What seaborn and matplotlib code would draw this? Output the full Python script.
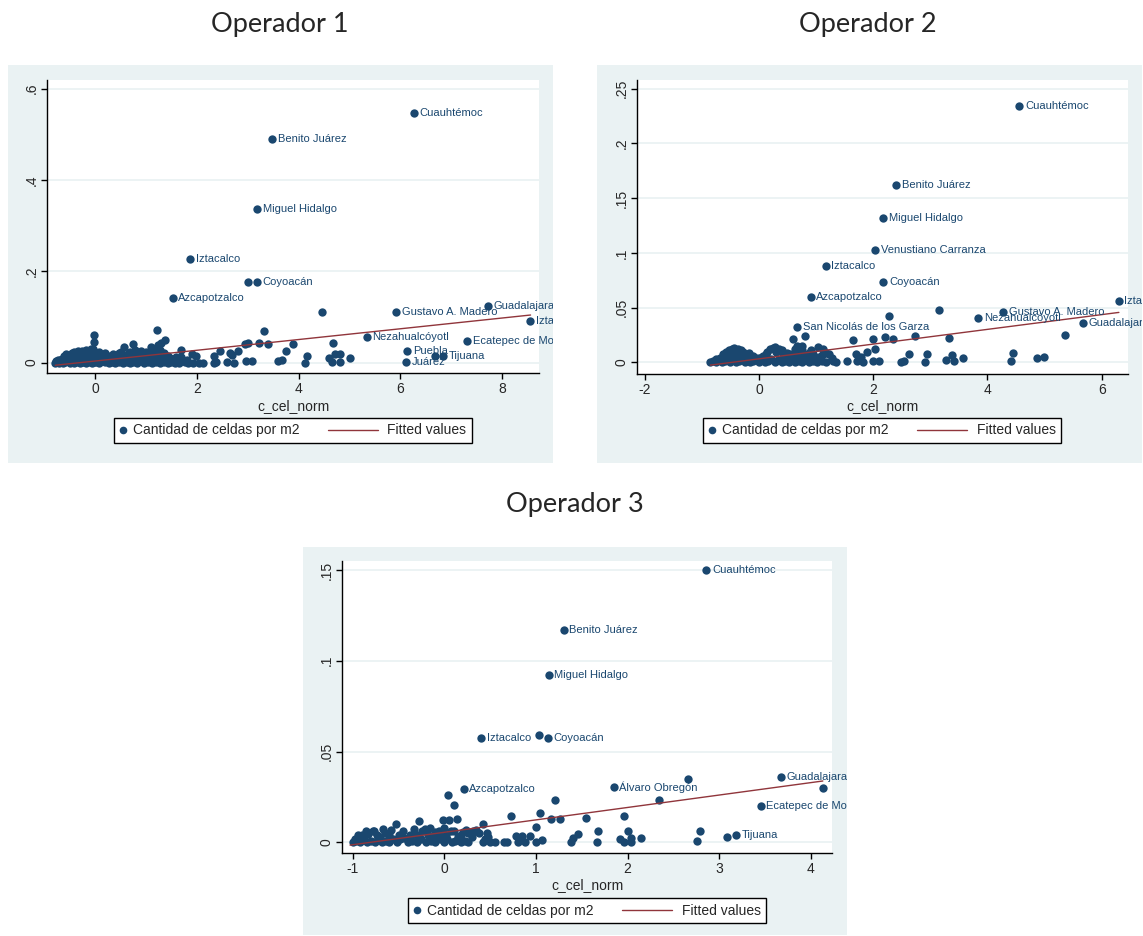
import matplotlib
matplotlib.use('Agg')
import matplotlib.pyplot as plt
import seaborn as sns
from matplotlib.lines import Line2D
from matplotlib.legend_handler import HandlerBase

sns.set_style('white')
plt.rcParams['font.family'] = ['Liberation Sans', 'DejaVu Sans']

# ---- datos Operador 1 ----
p1_points = [
    (-0.78, 0), (-0.74, 0.001), (-0.70, 0), (-0.66, 0.002), (-0.62, 0), (-0.58, 0.001), (-0.54, 0.003),
    (-0.50, 0), (-0.46, 0.002), (-0.42, 0), (-0.38, 0.001), (-0.34, 0.003), (-0.30, 0), (-0.26, 0.002),
    (-0.22, 0.001), (-0.18, 0), (-0.14, 0.003), (-0.10, 0.001), (-0.06, 0), (-0.02, 0.002), (0.03, 0.001),
    (0.08, 0), (0.14, 0.003), (0.20, 0.001), (0.27, 0), (0.34, 0.002), (0.40, 0), (0.47, 0.001), (0.55, 0),
    (0.62, 0.002), (0.68, 0), (0.75, 0.001), (0.83, 0), (0.90, 0.003), (0.97, 0), (1.05, 0.001), (1.12, 0),
    (1.20, 0.002), (1.28, 0), (1.35, 0.001), (1.43, 0), (1.50, 0.002), (1.57, 0), (1.65, 0), (1.77, 0.001),
    (1.82, 0), (1.93, 0), (2.04, 0), (2.13, 0), (2.33, 0), (2.37, 0.001), (2.60, 0.001), (2.73, 0),
    (2.96, 0.003), (3.08, 0.003), (3.60, 0.003), (3.67, 0.005), (4.13, 0), (4.66, 0.001), (4.82, 0.001),
    (-0.72, 0.006), (-0.64, 0.008), (-0.56, 0.005), (-0.48, 0.010), (-0.40, 0.007), (-0.32, 0.012),
    (-0.24, 0.006), (-0.16, 0.009), (-0.08, 0.011), (0.0, 0.007), (0.06, 0.012), (0.16, 0.006),
    (0.26, 0.009), (0.36, 0.010), (0.45, 0.006), (0.52, 0.011), (0.60, 0.008), (0.66, 0.012), (0.74, 0.005),
    (0.82, 0.009), (0.92, 0.007), (1.00, 0.011), (1.08, 0.006), (1.18, 0.009), (1.31, 0.012), (1.40, 0.005),
    (1.47, 0.010), (1.70, 0.012), (1.80, 0.005), (4.59, 0.009), (5.01, 0.009),
    (-0.76, 0.004), (-0.68, 0.005), (-0.60, 0.003), (-0.52, 0.008), (-0.44, 0.012), (-0.36, 0.014),
    (-0.28, 0.010), (-0.20, 0.012), (-0.12, 0.014), (-0.04, 0.010), (0.02, 0.015), (0.10, 0.008),
    (0.22, 0.012), (0.31, 0.005), (0.42, 0.013), (0.50, 0.004), (0.56, 0.016), (0.64, 0.018), (0.72, 0.015),
    (0.78, 0.028), (0.86, 0.006), (0.96, 0.012), (1.04, 0.018), (1.12, 0.013), (1.20, 0.030), (1.28, 0.027),
    (1.36, 0.020), (1.44, 0.014), (1.55, 0.008), (1.60, 0.012),
    (-0.60, 0.014), (-0.50, 0.016), (-0.46, 0.020), (-0.38, 0.018), (-0.30, 0.022), (-0.26, 0.026),
    (-0.20, 0.016), (-0.12, 0.020), (-0.04, 0.024), (0.04, 0.018), (0.13, 0.016), (0.30, 0.014),
    (0.58, 0.013), (0.69, 0.023), (0.80, 0.020), (0.88, 0.015), (0.95, 0.016), (1.15, 0.023), (1.25, 0.018),
    (1.69, 0.027), (1.91, 0.019), (1.98, 0.015), (2.34, 0.015), (2.46, 0.025), (2.65, 0.020), (2.70, 0.017),
    (2.82, 0.025), (3.76, 0.025), (4.17, 0.014), (4.72, 0.018), (4.82, 0.018), (6.68, 0.014),
    (-0.56, 0.018), (-0.42, 0.024), (-0.34, 0.026), (-0.18, 0.028), (-0.08, 0.030), (0.08, 0.022),
    (0.20, 0.020), (0.36, 0.018), (0.47, 0.020), (0.52, 0.024), (0.90, 0.026), (1.00, 0.022),
    (-0.01, 0.060), (-0.01, 0.044), (-0.03, 0.030), (0.58, 0.033), (0.74, 0.040), (1.11, 0.033),
    (1.22, 0.072), (1.23, 0.038), (1.30, 0.043), (1.38, 0.049), (3.00, 0.042), (2.95, 0.040), (3.23, 0.043),
    (3.32, 0.070), (3.41, 0.041), (3.89, 0.040), (4.67, 0.042), (4.46, 0.111), (3.00, 0.176),
]
p1_names = ['Cuauhtémoc', 'Benito Juárez', 'Miguel Hidalgo', 'Iztacalco', 'Coyoacán', 'Azcapotzalco',
            'Gustavo A. Madero', 'Guadalajara', 'Iztapalapa', 'Nezahualcóyotl', 'Ecatepec de Morelos',
            'Puebla', 'Tijuana', 'Juárez']
p1_lab_x = [6.27, 3.48, 3.19, 1.87, 3.19, 1.53, 5.92, 7.73, 8.55, 5.34, 7.32, 6.14, 6.84, 6.11]
p1_lab_y = [0.547, 0.489, 0.336, 0.226, 0.176, 0.142, 0.111, 0.124, 0.091, 0.056, 0.048, 0.025, 0.015, 0.002]
p1_fit_x = [-0.78, 8.56]
p1_fit_y = [-0.006, 0.104]

# ---- datos Operador 2 ----
p2_points = [
    (-0.85, 0), (-0.80, 0.001), (-0.75, 0), (-0.70, 0.002), (-0.65, 0), (-0.60, 0.001), (-0.55, 0.003),
    (-0.50, 0), (-0.45, 0.002), (-0.40, 0), (-0.35, 0.001), (-0.30, 0.003), (-0.25, 0), (-0.20, 0.002),
    (-0.15, 0), (-0.10, 0.001), (-0.05, 0.003), (0.0, 0), (0.05, 0.002), (0.10, 0), (0.16, 0.001),
    (0.22, 0.003), (0.28, 0), (0.34, 0.002), (0.40, 0), (0.46, 0.001), (0.52, 0), (0.58, 0.002), (0.64, 0),
    (0.70, 0.001), (0.76, 0), (0.82, 0.002), (0.88, 0), (0.95, 0.001), (1.02, 0), (1.10, 0.001), (1.18, 0),
    (1.30, 0.001), (1.35, 0), (1.54, 0.001), (1.72, 0.001), (1.82, 0), (2.00, 0.001), (2.10, 0.0015),
    (2.49, 0), (2.54, 0.0018), (2.90, 0.0003), (3.27, 0.0024), (3.42, 0.0012), (4.42, 0.001),
    (-0.60, 0.005), (-0.55, 0.007), (-0.50, 0.008), (-0.45, 0.006), (-0.42, 0.010), (-0.38, 0.009),
    (-0.33, 0.007), (-0.28, 0.010), (-0.22, 0.005), (-0.15, 0.006), (-0.05, 0.004), (0.05, 0.005),
    (0.12, 0.008), (0.20, 0.012), (0.25, 0.013), (0.30, 0.010), (0.35, 0.012), (0.42, 0.007), (0.50, 0.009),
    (0.58, 0.006), (0.64, 0.012), (0.72, 0.008), (0.80, 0.006), (0.87, 0.009), (0.95, 0.0073), (1.05, 0.005),
    (1.13, 0.0122), (1.23, 0.0073), (1.70, 0.0073), (1.79, 0.005), (1.89, 0.010), (2.04, 0.0119),
    (2.62, 0.0076), (2.94, 0.0076), (3.38, 0.0067), (3.58, 0.0043), (4.45, 0.0085), (4.86, 0.0043),
    (4.99, 0.0046),
    (-0.75, 0.003), (-0.68, 0.004), (-0.62, 0.008), (-0.58, 0.010), (-0.52, 0.011), (-0.47, 0.012),
    (-0.43, 0.013), (-0.36, 0.012), (-0.31, 0.011), (-0.26, 0.008), (-0.18, 0.009), (-0.10, 0.006),
    (0.0, 0.004), (0.08, 0.006), (0.15, 0.010), (0.28, 0.014), (0.40, 0.011), (0.46, 0.004), (0.55, 0.008),
    (0.62, 0.004), (0.68, 0.010), (0.75, 0.011), (0.85, 0.004), (0.92, 0.011), (1.00, 0.004), (1.10, 0.007),
    (1.18, 0.009), (1.28, 0.004),
    (0.59, 0.021), (0.67, 0.015), (0.76, 0.015), (0.81, 0.0238), (1.03, 0.0143), (1.64, 0.0207),
    (1.99, 0.0213), (2.21, 0.0229), (2.35, 0.0213), (2.73, 0.0238), (3.32, 0.022), (5.36, 0.025),
    (2.28, 0.042), (3.16, 0.048),
]
p2_names = ['Cuauhtémoc', 'Benito Juárez', 'Miguel Hidalgo', 'Venustiano Carranza', 'Iztacalco', 'Coyoacán',
            'Azcapotzalco', 'San Nicolás de los Garza', 'Gustavo A. Madero', 'Nezahualcóyotl', 'Iztapalapa',
            'Guadalajara']
p2_lab_x = [4.56, 2.40, 2.18, 2.04, 1.17, 2.18, 0.91, 0.675, 4.28, 3.84, 6.30, 5.67]
p2_lab_y = [0.234, 0.1616, 0.132, 0.1027, 0.088, 0.073, 0.060, 0.0326, 0.0457, 0.041, 0.0564, 0.0363]
p2_fit_x = [-0.85, 6.30]
p2_fit_y = [-0.0024, 0.0457]

# ---- datos Operador 3 ----
p3_points = [
    (-1.0, 0), (-0.96, 0.001), (-0.92, 0), (-0.88, 0.002), (-0.84, 0), (-0.80, 0.001), (-0.76, 0),
    (-0.72, 0.002), (-0.68, 0), (-0.64, 0.001), (-0.60, 0), (-0.56, 0.002), (-0.52, 0), (-0.44, 0.0026),
    (-0.40, 0), (-0.35, 0.001), (-0.30, 0), (-0.25, 0.002), (-0.20, 0), (-0.15, 0.001), (-0.10, 0),
    (-0.05, 0.002), (0.0, 0), (0.03, 0.002), (0.08, 0), (0.12, 0.001), (0.18, 0), (0.22, 0.001), (0.26, 0),
    (0.42, 0), (0.50, 0), (0.55, 0), (0.65, 0), (0.68, 0), (0.80, 0), (0.88, 0), (1.0, 0), (1.07, 0.0011),
    (1.38, 0), (1.66, 0), (1.96, 0), (2.04, 0), (2.76, 0.0007),
    (-0.94, 0.004), (-0.83, 0.0044), (-0.78, 0.006), (-0.77, 0.0064), (-0.70, 0.003), (-0.67, 0.0073),
    (-0.60, 0.004), (-0.53, 0.0099), (-0.48, 0.002), (-0.33, 0.0072), (-0.28, 0.0117), (-0.21, 0.0073),
    (-0.18, 0.004), (-0.10, 0.0059), (-0.05, 0.003), (0.0, 0.008), (0.054, 0.0121), (-0.018, 0.0123),
    (0.077, 0.0062), (0.18, 0.004), (0.20, 0.0055), (0.26, 0.005), (0.31, 0.0062), (0.35, 0.0068),
    (0.425, 0.0099), (0.46, 0.005), (0.78, 0.0037), (0.85, 0.0037), (0.93, 0.0037), (1.0, 0.0086),
    (1.40, 0.0022), (1.46, 0.0044), (1.68, 0.0062), (1.92, 0.0018), (2.0, 0.0062), (2.04, 0.0026),
    (2.15, 0.0026), (2.79, 0.0062), (3.08, 0.0029),
    (-0.98, 0.002), (-0.90, 0.004), (-0.86, 0.006), (-0.74, 0.004), (-0.65, 0.005), (-0.58, 0.007),
    (-0.50, 0.004), (-0.45, 0.006), (-0.38, 0.004), (-0.30, 0.004), (-0.24, 0.006), (-0.16, 0.008),
    (-0.12, 0.003), (-0.06, 0.006), (0.02, 0.004), (0.10, 0.006), (0.15, 0.003), (0.24, 0.007),
    (0.30, 0.003), (0.38, 0.005), (0.44, 0.002), (0.48, 0.003),
    (0.133, 0.0129), (0.103, 0.0207), (0.039, 0.0259), (0.73, 0.0147), (1.04, 0.0162), (1.16, 0.0127),
    (1.21, 0.0233), (1.26, 0.0129), (1.54, 0.0136), (1.96, 0.0147), (2.34, 0.0235), (2.66, 0.0349),
    (4.13, 0.0301), (1.03, 0.0591),
]
p3_names = ['Cuauhtémoc', 'Benito Juárez', 'Miguel Hidalgo', 'Iztacalco', 'Coyoacán', 'Azcapotzalco',
            'Álvaro Obregón', 'Guadalajara', 'Ecatepec de Morelos', 'Tijuana']
p3_lab_x = [2.86, 1.30, 1.14, 0.40, 1.13, 0.21, 1.85, 3.67, 3.45, 3.18]
p3_lab_y = [0.150, 0.1168, 0.0922, 0.0575, 0.0576, 0.0294, 0.0305, 0.0362, 0.020, 0.0039]
p3_fit_x = [-1.03, 4.13]
p3_fit_y = [-0.0015, 0.0338]

navy = '#1a476f'
maroon = '#90353b'
bg_col = '#eaf2f3'


# leyenda estilo Stata: punto pegado al texto, linea larga a la izquierda del segundo texto
class DotHandler(HandlerBase):
    def create_artists(self, legend, orig_handle, xdescent, ydescent, width, height, fontsize, trans):
        return [Line2D([0.4 * width - xdescent], [0.5 * height - ydescent], marker='o', ls='',
                       color=navy, markersize=5.5, markeredgewidth=0, transform=trans)]


class FitHandler(HandlerBase):
    def create_artists(self, legend, orig_handle, xdescent, ydescent, width, height, fontsize, trans):
        y = 0.5 * height - ydescent
        return [Line2D([-3.3 * fontsize - xdescent, 0.5 * width - xdescent], [y, y],
                       color=maroon, lw=1, transform=trans)]


fig = plt.figure(figsize=(11.43, 9.36), dpi=100)


def panel(bg_rect, ax_rect, pts, names, lab_x, lab_y, fit_x, fit_y,
          xlim, ylim, xticks, yticks, ytlabels, leg_xy):
    bg = fig.add_axes(bg_rect)
    bg.set_facecolor(bg_col)
    bg.set_xticks([])
    bg.set_yticks([])
    for s in bg.spines.values():
        s.set_visible(False)

    ax = fig.add_axes(ax_rect)
    ax.set_facecolor('white')
    for v in yticks:
        ax.axhline(v, color=bg_col, lw=1.3, zorder=0)

    x = [p[0] for p in pts] + lab_x
    y = [p[1] for p in pts] + lab_y
    sns.scatterplot(x=x, y=y, ax=ax, color=navy, s=36, linewidth=0, zorder=3, legend=False)
    sns.lineplot(x=fit_x, y=fit_y, ax=ax, color=maroon, lw=1, zorder=4, legend=False)

    for n, lx, ly in zip(names, lab_x, lab_y):
        t = ax.annotate(n, (lx, ly), xytext=(4, 0), textcoords='offset points',
                        va='center', ha='left', fontsize=8, color=navy, zorder=5)
        t.set_clip_path(bg.patch)
        t.set_clip_on(True)

    ax.set_xlim(xlim)
    ax.set_ylim(ylim)
    ax.set_xticks(xticks)
    ax.set_xticklabels([str(v) for v in xticks])
    ax.set_yticks(yticks)
    ax.set_yticklabels(ytlabels, rotation=90, va='center')
    ax.tick_params(direction='out', length=4, width=1, color='black',
                   labelsize=10, bottom=True, left=True, pad=2)
    for s in ['top', 'right']:
        ax.spines[s].set_visible(False)
    for s in ['left', 'bottom']:
        ax.spines[s].set_color('black')
        ax.spines[s].set_linewidth(1)
    ax.set_xlabel('c_cel_norm', fontsize=10, labelpad=2)
    ax.set_ylabel('')

    h_dot = Line2D([], [])
    h_fit = Line2D([], [])
    ax.legend([h_dot, h_fit], ['Cantidad de celdas por m2', 'Fitted values'],
              handler_map={h_dot: DotHandler(), h_fit: FitHandler()},
              loc='center', bbox_to_anchor=leg_xy, bbox_transform=fig.transFigure,
              ncol=2, frameon=True, fancybox=False, edgecolor='black', framealpha=1,
              fontsize=10, handlelength=0.6, handletextpad=0.4, columnspacing=5.3,
              borderpad=0.4)
    return ax


panel([0.0070, 0.5053, 0.4768, 0.4252], [0.0414, 0.6010, 0.4299, 0.3132],
      p1_points, p1_names, p1_lab_x, p1_lab_y, p1_fit_x, p1_fit_y,
      (-0.936, 8.72), (-0.024, 0.618), [0, 2, 4, 6, 8],
      [0, 0.2, 0.4, 0.6], ['0', '.2', '.4', '.6'], (0.2563, 0.5401))

panel([0.5223, 0.5053, 0.4768, 0.4252], [0.5570, 0.6002, 0.4299, 0.3141],
      p2_points, p2_names, p2_lab_x, p2_lab_y, p2_fit_x, p2_fit_y,
      (-2.14, 6.46), (-0.0107, 0.2576), [-2, 0, 2, 4, 6],
      [0, 0.05, 0.1, 0.15, 0.2, 0.25], ['0', '.05', '.1', '.15', '.2', '.25'], (0.7717, 0.5401))

panel([0.2651, 0.001, 0.4759, 0.4145], [0.2995, 0.0884, 0.4284, 0.3123],
      p3_points, p3_names, p3_lab_x, p3_lab_y, p3_fit_x, p3_fit_y,
      (-1.114, 4.23), (-0.006, 0.155), [-1, 0, 1, 2, 3, 4],
      [0, 0.05, 0.1, 0.15], ['0', '.05', '.1', '.15'], (0.5136, 0.0272))

title_font = ['Lato', 'DejaVu Sans']
fig.text(0.245, 0.9733, 'Operador 1', ha='center', va='center', fontsize=19.5, family=title_font)
fig.text(0.7594, 0.9733, 'Operador 2', ha='center', va='center', fontsize=19.5, family=title_font)
fig.text(0.503, 0.4605, 'Operador 3', ha='center', va='center', fontsize=19.5, family=title_font)

fig.savefig('out.png', dpi=100)
